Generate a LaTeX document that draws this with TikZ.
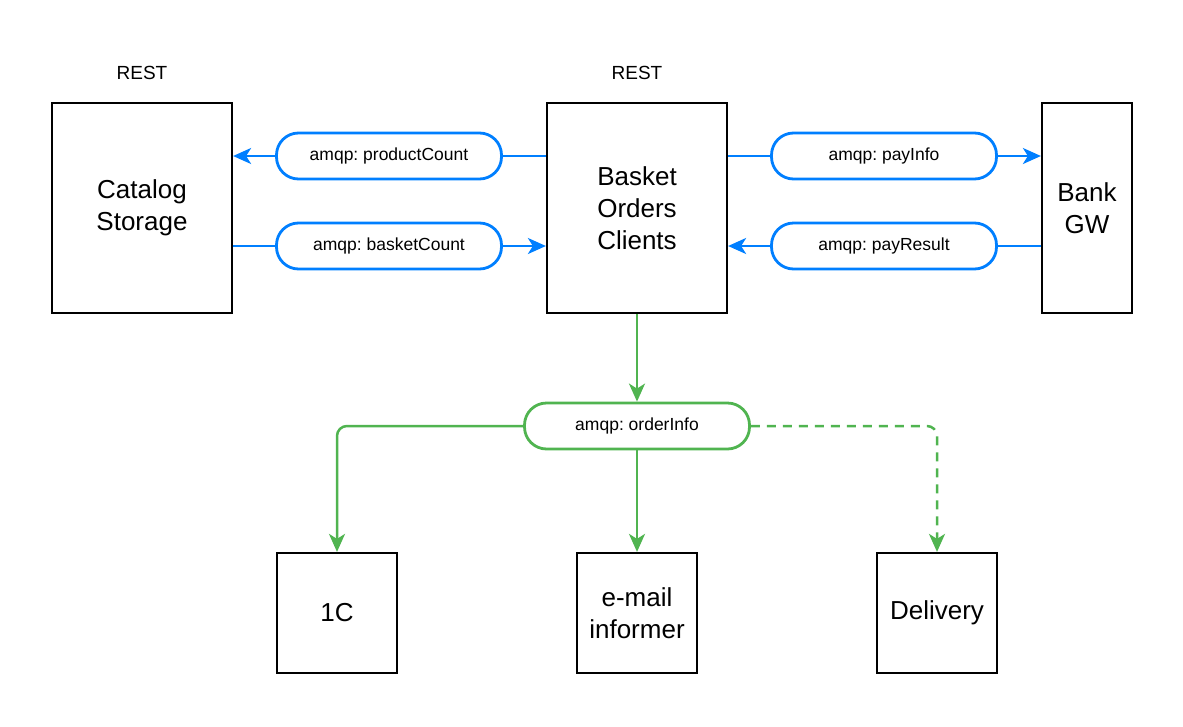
\documentclass[tikz,border=0pt]{standalone}
\usepackage{fontspec}
\setmainfont{Liberation Sans}
\usetikzlibrary{arrows.meta,positioning}
\definecolor{qblue}{RGB}{0,127,255}
\definecolor{qgreen}{RGB}{80,180,80}
\frenchspacing

\begin{document}
\begin{tikzpicture}[x=1pt, y=-1pt,
  service/.style={draw, line width=2.2pt, fill=white, align=center,
    font=\fontsize{26}{32}\selectfont, inner sep=0pt},
  queue/.style={draw, line width=2.8pt, rounded corners=22pt, fill=white,
    minimum width=225pt, minimum height=46pt, inner sep=0pt,
    font=\fontsize{17.5}{21}\selectfont},
  lbl/.style={font=\fontsize{19}{23}\selectfont},
  barr/.style={-{Stealth[length=18pt, width=16pt, inset=5pt]}, line width=2.5pt, qblue},
  bline/.style={line width=2.5pt, qblue},
  garr/.style={-{Stealth[length=18pt, width=16pt, inset=5pt]}, line width=2.5pt, qgreen, rounded corners=10pt}]
\useasboundingbox (0,0) rectangle (1183,726);
% Top row
\node[service, minimum width=180pt, minimum height=210pt] (catalog) at (142,208) {Catalog\\Storage};
\node[service, minimum width=180pt, minimum height=210pt] (basket) at (637,208) {Basket\\Orders\\Clients};
\node[service, minimum width=90pt, minimum height=210pt] (bank) at (1087,208) {Bank\\GW};
\node[lbl] (rest1) at (142,73) {REST};
\node[lbl] (rest2) at (637,73) {REST};
% Catalog <-> Basket
\node[queue, draw=qblue] (prodcnt) at (389,156) {amqp: productCount};
\draw[bline] (basket.west |- prodcnt) -- (prodcnt.east);
\draw[barr] (prodcnt.west) -- (catalog.east |- prodcnt);
\node[queue, draw=qblue] (bskcnt) at (389,246) {amqp: basketCount};
\draw[bline] (catalog.east |- bskcnt) -- (bskcnt.west);
\draw[barr] (bskcnt.east) -- (basket.west |- bskcnt);
% Basket <-> Bank
\node[queue, draw=qblue] (payinfo) at (884,156) {amqp: payInfo};
\draw[bline] (basket.east |- payinfo) -- (payinfo.west);
\draw[barr] (payinfo.east) -- (bank.west |- payinfo);
\node[queue, draw=qblue] (payres) at (884,246) {amqp: payResult};
\draw[bline] (bank.west |- payres) -- (payres.east);
\draw[barr] (payres.west) -- (basket.east |- payres);
% Orders
\node[queue, draw=qgreen] (orderinfo) at (637,426) {amqp: orderInfo};
\draw[garr] (basket.south) -- (orderinfo.north);
\node[service, minimum width=120pt, minimum height=120pt] (onec) at (337,613) {1C};
\node[service, minimum width=120pt, minimum height=120pt] (email) at (637,613) {e-mail\\informer};
\node[service, minimum width=120pt, minimum height=120pt] (delivery) at (937,613) {Delivery};
\draw[garr] (orderinfo.west) -| (onec.north);
\draw[garr] (orderinfo.south) -- (email.north);
\draw[garr, dashed, dash pattern=on 9pt off 7pt] (orderinfo.east) -| (delivery.north);
\end{tikzpicture}
\end{document}
